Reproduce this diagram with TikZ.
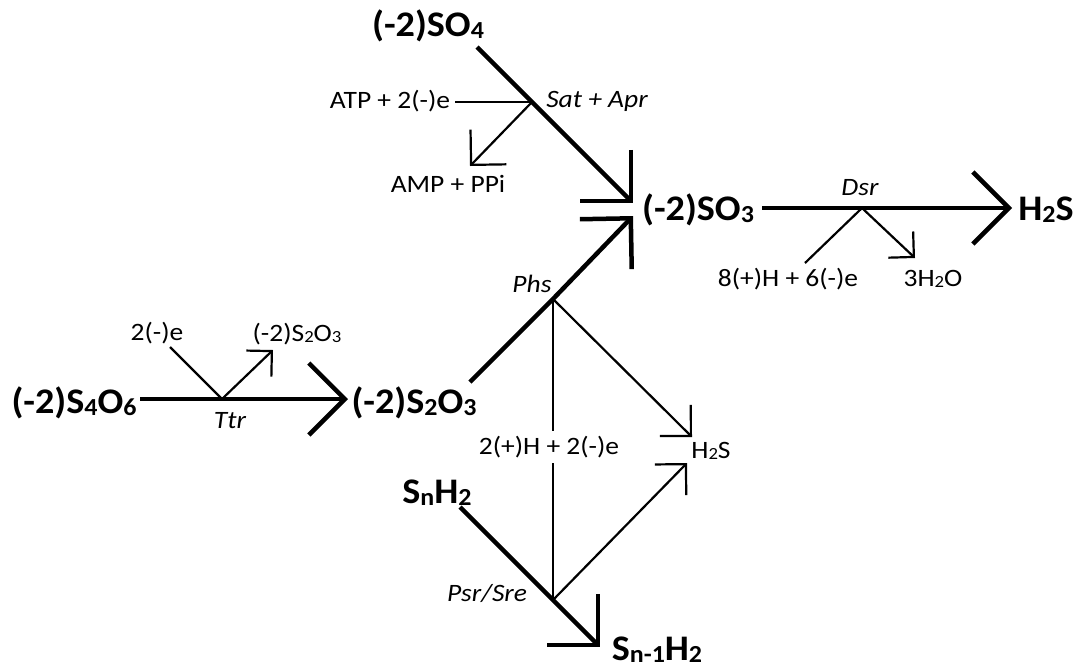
\documentclass[tikz,border=0pt]{standalone}
\usepackage{fontspec}
\setmainfont{Carlito}
\newfontfamily\bigfam[FakeStretch=1.06]{Carlito}
\newfontfamily\smallfam[FakeStretch=1.1]{Carlito}
\usetikzlibrary{arrows.meta}
\newcommand\subs[1]{\raisebox{-0.06em}{\scalebox{0.68}{#1}}}
\begin{document}
\begin{tikzpicture}[x=1pt,y=-1pt,
  big/.style={font=\bigfam\fontsize{36}{38}\selectfont\bfseries, inner sep=0},
  small/.style={font=\smallfam\fontsize{25}{27}\selectfont, inner sep=0},
  enz/.style={font=\smallfam\fontsize{25}{27}\selectfont\itshape, inner sep=0},
  thickln/.style={line width=4.5pt},
  thinln/.style={line width=2.2pt},
  bigtip/.style={-{Straight Barb[length=36pt,width=72pt]}},
  smalltip/.style={-{Straight Barb[length=#1,width=2*#1]}},
]
\useasboundingbox (0,0) rectangle (1081,670);
% species
\node[big] (so4) at (428,26) {(-2)SO\subs{4}};
\node[big] (so3) at (698,210) {(-2)SO\subs{3}};
\node[big] (h2s) at (1046,210) {H\subs{2}S};
\node[big] (s4o6) at (74,403) {(-2)S\subs{4}O\subs{6}};
\node[big] (s2o3) at (414,403) {(-2)S\subs{2}O\subs{3}};
\node[big] (snh2) at (437,493) {S\subs{n}H\subs{2}};
\node[big] (sn1h2) at (657,650) {S\subs{n-1}H\subs{2}};
% small species
\node[small] (atp) at (390,101) {ATP + 2(-)e};
\node[small] (amp) at (448,184) {AMP + PPi};
\node[small] (hde) at (788,279) {8(+)H + 6(-)e};
\node[small] (water) at (933,279) {3H\subs{2}O};
\node[small] (el) at (157,333) {2(-)e};
\node[small] (thio) at (297,334) {(-2)S\subs{2}O\subs{3}};
\node[small] (h2ss) at (711,451) {H\subs{2}S};
% enzymes
\node[enz] (sat) at (597,101) {Sat + Apr};
\node[enz] (dsr) at (860,188) {Dsr};
\node[enz] (phs) at (532,284) {Phs};
\node[enz] (psr) at (487,593) {Psr/Sre};
\node[enz] (ttr) at (230,421) {Ttr};
% coordinates
\coordinate (a0) at (477,47);
\coordinate (bsat) at (532,102);
\coordinate (ta) at (633,203);
\coordinate (b0) at (470,382);
\coordinate (bphs) at (553,299);
\coordinate (tb) at (633,216);
\coordinate (c0) at (762,208);
\coordinate (bdsr) at (862,208);
\coordinate (tc) at (1012,208);
\coordinate (d0) at (140,399);
\coordinate (bttr) at (222,399);
\coordinate (td) at (348,399);
\coordinate (e0) at (460,507);
\coordinate (bpsr) at (553,600);
\coordinate (te) at (600,647);
\coordinate (atpend) at (455,102);
\coordinate (ampt) at (470,166);
\coordinate (hdeend) at (805,263);
\coordinate (watert) at (915,258);
\coordinate (elend) at (170,347);
\coordinate (thiot) at (273,350);
\coordinate (hst1) at (692,437);
\coordinate (hst2) at (687,463);
% main reactions
\draw[thickln,bigtip] (a0) -- (bsat) -- (ta);
\draw[thickln,bigtip] (b0) -- (bphs) -- (tb);
\draw[thickln,bigtip] (c0) -- (bdsr) -- (tc);
\draw[thickln,bigtip] (d0) -- (bttr) -- (td);
\draw[thickln,bigtip] (e0) -- (bpsr) -- (te);
% side branches
\draw[thinln] (atpend) -- (bsat);
\draw[thinln,smalltip=25pt] (bsat) -- (ampt);
\draw[thinln] (hdeend) -- (bdsr);
\draw[thinln,smalltip=18pt] (bdsr) -- (watert);
\draw[thinln] (elend) -- (bttr);
\draw[thinln,smalltip=18pt] (bttr) -- (thiot);
\draw[thinln,smalltip=22pt] (bphs) -- (hst1);
\draw[thinln,smalltip=22pt] (bpsr) -- (hst2);
\draw[thinln] (bphs) -- (bpsr);
\node[small,fill=white,inner xsep=1pt,inner ysep=5pt] (hhe) at (549,447) {2(+)H + 2(-)e};
\end{tikzpicture}
\end{document}
